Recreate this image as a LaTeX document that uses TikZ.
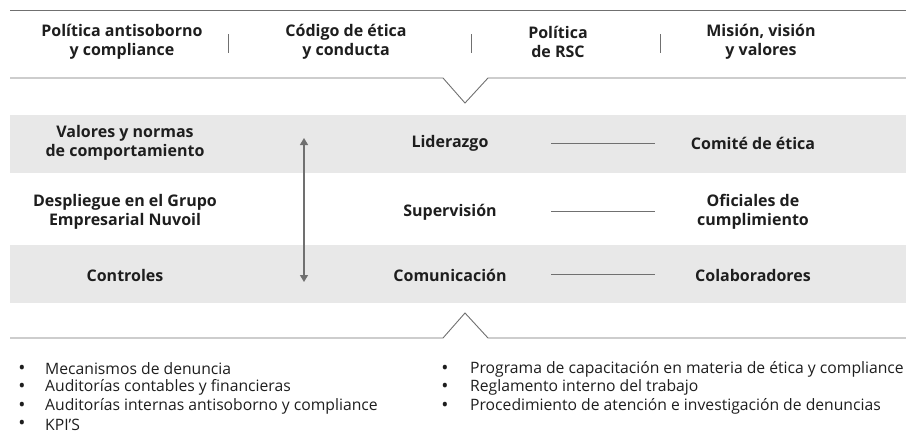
\documentclass[tikz,border=0pt]{standalone}
\usepackage{fontspec}
\setmainfont{Open Sans}
\usetikzlibrary{arrows.meta}
\definecolor{bandgray}{HTML}{E8E8E8}
\definecolor{linegray}{HTML}{707070}
\definecolor{txt}{HTML}{1E1E1E}

\begin{document}
\begin{tikzpicture}[x=1pt,y=-1pt,
  head/.style={font=\bfseries\fontsize{16}{19}\selectfont,align=center,text=txt,inner sep=0pt},
  item/.style={font=\fontsize{15.7}{18.5}\selectfont,anchor=west,text=txt,inner sep=0pt},
  dot/.style={font=\fontsize{19}{19}\selectfont,text=txt,inner sep=0pt},
  rule/.style={draw=linegray,line width=0.9pt}]
\useasboundingbox (0,0) rectangle (906,437);
% bands
\fill[bandgray] (10,115) rectangle (906,173);
\fill[bandgray] (10,245) rectangle (906,303);
% frame lines
\draw[rule] (10,10)--(906,10);
\draw[rule] (10,78)--(443,78)--(465,103)--(488,78)--(906,78);
\draw[rule] (10,338)--(443,338)--(465,313)--(488,338)--(906,338);
% header
\node[head] (pol) at (122,42) {Política antisoborno\\y compliance};
\node[head] (cod) at (346,42) {Código de ética\\y conducta};
\node[head] (rsc) at (558,42) {Política\\de RSC};
\node[head] (mis) at (761,42) {Misión, visión\\y valores};
\foreach \x in {228,471,660}
  \draw[rule,line width=0.7pt] (\x,34)--(\x,53);
% rows
\node[head] (val) at (125,143) {Valores y normas\\de comportamiento};
\node[head] (des) at (125,212) {Despliegue en el Grupo\\Empresarial Nuvoil};
\node[head] (con) at (125,275) {Controles};
\node[head] (lid) at (450,143) {Liderazgo};
\node[head] (sup) at (450,212) {Supervisión};
\node[head] (com) at (450,275) {Comunicación};
\node[head] (eti) at (753,143) {Comité de ética};
\node[head] (ofi) at (753,212) {Oficiales de\\cumplimiento};
\node[head] (col) at (753,275) {Colaboradores};
\coordinate (top) at (304,138);
\coordinate (bot) at (304,282);
\draw[rule,line width=1.2pt,{Triangle[length=7pt,width=8pt]}-{Triangle[length=7pt,width=8pt]}] (top)--(bot);
\foreach \n/\y in {1/143,2/211,3/274}{
  \coordinate (la\n) at (551,\y);
  \coordinate (lb\n) at (655,\y);
  \draw[rule,line width=0.7pt] (la\n)--(lb\n);
}
% bullet lists
\foreach \t [count=\i] in {Mecanismos de denuncia,Auditorías contables y financieras,Auditorías internas antisoborno y compliance,KPI’S}{
  \node[dot] (bl\i) at (22,351+18.5*\i) {•};
  \node[item] (tl\i) at (45,350.5+18.5*\i) {\t};
}
\foreach \t [count=\i] in {Programa de capacitación en materia de ética y compliance,Reglamento interno del trabajo,Procedimiento de atención e investigación de denuncias}{
  \node[dot] (br\i) at (445,351+18.5*\i) {•};
  \node[item] (tr\i) at (470,350.5+18.5*\i) {\t};
}
\end{tikzpicture}
\end{document}
